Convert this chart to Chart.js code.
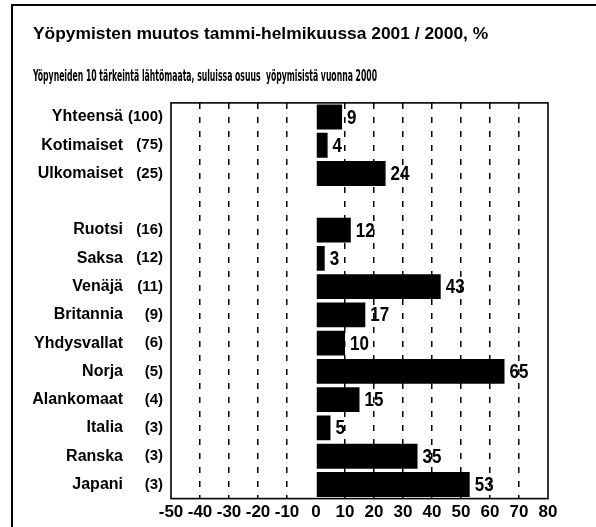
<!DOCTYPE html>
<html lang="fi">
<head>
<meta charset="utf-8">
<title>Yöpymisten muutos tammi-helmikuussa 2001 / 2000</title>
<script src="https://cdn.jsdelivr.net/npm/chart.js@4.4.1/dist/chart.umd.min.js"></script>
<style>
    html, body { margin: 0; padding: 0; background: #fff; }
    #wrap { position: relative; width: 596px; height: 527px; overflow: hidden; }
    #frame {
        position: absolute; left: 11px; top: 4px; width: 600px; height: 600px;
        border: 2px solid #000; pointer-events: none;
    }
</style>
</head>
<body>
<div id="wrap">
    <canvas id="chart" width="596" height="527"></canvas>
    <div id="frame"></div>
</div>
<script>
(function () {
    'use strict';

    // Chart data
    const titleText = 'Yöpymisten muutos tammi-helmikuussa 2001 / 2000, %';
    const subtitleText = 'Yöpyneiden 10 tärkeintä lähtömaata, suluissa osuus  yöpymisistä vuonna 2000';
    const categories = ['Yhteensä', 'Kotimaiset', 'Ulkomaiset', '', 'Ruotsi', 'Saksa', 'Venäjä',
        'Britannia', 'Yhdysvallat', 'Norja', 'Alankomaat', 'Italia', 'Ranska', 'Japani'];
    const shares = ['(100)', '(75)', '(25)', '', '(16)', '(12)', '(11)',
        '(9)', '(6)', '(5)', '(4)', '(3)', '(3)', '(3)'];
    const changes = [9, 4, 24, null, 12, 3, 43, 17, 10, 65, 15, 5, 35, 53];
    const xMin = -50;
    const xMax = 80;
    const xStep = 10;

    const narrow = "'Liberation Sans Narrow', 'DejaVu Sans Condensed', 'Liberation Sans', sans-serif";
    const regular = "'Liberation Sans', Arial, sans-serif";

    Chart.defaults.color = '#000';
    Chart.defaults.font.family = regular;

    /**
     * Draws the value of each bar just past its end (tall, narrow digits).
     */
    const valueLabels = {
        id: 'valueLabels',
        afterDatasetsDraw: function (chart) {
            const ctx = chart.ctx;
            const meta = chart.getDatasetMeta(0);
            ctx.fillStyle = '#000';
            meta.data.forEach(function (bar, i) {
                const v = changes[i];
                if (v === null) {
                    return;
                }
                ctx.save();
                ctx.font = 'bold 20px ' + regular;
                ctx.textAlign = 'left';
                ctx.textBaseline = 'middle';
                ctx.translate(bar.x + 5, bar.y + 1);
                ctx.scale(0.85, 1);
                ctx.fillText(String(v), 0, 0);
                ctx.restore();
            });
        }
    };

    /**
     * Frame round the plot area and the condensed subtitle.
     */
    const frameAndSubtitle = {
        id: 'frameAndSubtitle',
        afterDraw: function (chart) {
            const ctx = chart.ctx;
            const a = chart.chartArea;
            ctx.save();
            ctx.strokeStyle = '#000';
            ctx.lineWidth = 1.6;
            ctx.strokeRect(a.left, a.top, a.right - a.left, a.bottom - a.top);

            // subtitle, squeezed horizontally like the original
            ctx.fillStyle = '#000';
            ctx.font = 'bold 16px ' + narrow;
            ctx.textBaseline = 'middle';
            const w = ctx.measureText(subtitleText).width;
            ctx.translate(33, 77);
            ctx.scale(344 / w, 1);
            ctx.fillText(subtitleText, 0, 0);
            ctx.restore();
        }
    };

    const config = {
        type: 'bar',
        data: {
            labels: categories,
            datasets: [{
                data: changes,
                backgroundColor: '#000',
                borderWidth: 0,
                barPercentage: 0.88,
                categoryPercentage: 1
            }]
        },
        options: {
            indexAxis: 'y',
            responsive: false,
            animation: false,
            layout: {
                padding: { left: 33, right: 48, top: 24, bottom: 0 }
            },
            plugins: {
                legend: { display: false },
                tooltip: { enabled: false },
                title: {
                    display: true,
                    text: titleText,
                    align: 'start',
                    font: { size: 17.4, weight: 'bold', family: regular },
                    padding: { top: 0, bottom: 58 }
                },
                subtitle: { display: false }
            },
            scales: {
                x: {
                    type: 'linear',
                    min: xMin,
                    max: xMax,
                    ticks: {
                        stepSize: xStep,
                        autoSkip: false,
                        maxRotation: 0,
                        padding: 4,
                        font: { size: 17, weight: 'bold' }
                    },
                    grid: {
                        drawTicks: false,
                        lineWidth: 1.5,
                        color: function (c) {
                            const v = c.tick ? c.tick.value : null;
                            if (v === 0 || v === xMin || v === xMax) {
                                return 'rgba(0,0,0,0)';
                            }
                            return '#000';
                        }
                    },
                    border: { display: false, dash: [6, 8] }
                },
                y: {
                    type: 'category',
                    position: 'left',
                    offset: true,
                    weight: 2,
                    grid: { display: false, drawTicks: false },
                    border: { display: false },
                    ticks: {
                        padding: 5,
                        font: { size: 16, weight: 'bold' }
                    },
                    afterFit: function (scale) {
                        scale.width = 95;
                    }
                },
                y2: {
                    type: 'category',
                    position: 'left',
                    labels: shares,
                    offset: true,
                    weight: 1,
                    grid: { display: false, drawTicks: false },
                    border: { display: false },
                    ticks: {
                        padding: 8,
                        font: { size: 15, weight: 'bold' }
                    },
                    afterFit: function (scale) {
                        scale.width = 43;
                    }
                }
            }
        },
        plugins: [valueLabels, frameAndSubtitle]
    };

    const canvas = document.getElementById('chart');
    try {
        new Chart(canvas.getContext('2d'), config);
    } catch (error) {
        console.error('Error creating chart:', error);
    }
})();
</script>
</body>
</html>
